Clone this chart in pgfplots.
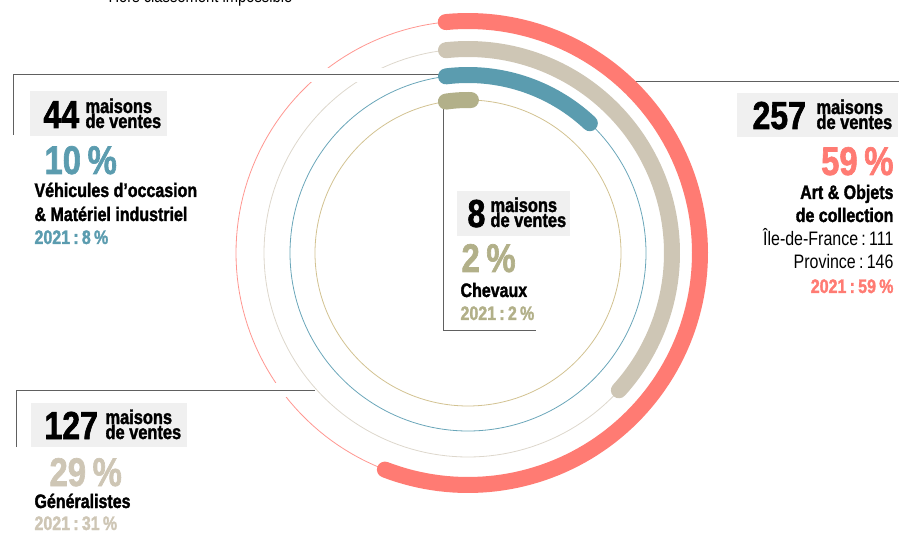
\documentclass[border=0pt]{standalone}
\usepackage{fontspec}
\setmainfont{Liberation Sans}[FakeStretch=0.82, BoldFeatures={FakeBold=1.6}]
\usepackage{pgfplots}
\pgfplotsset{compat=1.18}

\definecolor{cred}{HTML}{FF7B73}
\definecolor{cbeige}{HTML}{CEC6B5}
\definecolor{cblue}{HTML}{5B9CAF}
\definecolor{colive}{HTML}{B2B089}
\definecolor{tred}{HTML}{FF9690}
\definecolor{tbeige}{HTML}{DDD7CC}
\definecolor{tblue}{HTML}{6AA6B9}
\definecolor{tolive}{HTML}{D2C291}
\definecolor{boxgray}{HTML}{F0F0F0}
\definecolor{linegray}{HTML}{606060}
\definecolor{ink}{HTML}{1A1A1A}

\newcommand\bignum{\fontsize{39}{39}\selectfont\bfseries}
\newcommand\pctfont{\fontsize{40}{40}\selectfont\bfseries}
\newcommand\catfont{\fontsize{19.5}{23.5}\selectfont\bfseries}
\newcommand\regfont{\fontsize{19.5}{23.5}\selectfont}
\newcommand\mvfont{\fontsize{20}{15}\selectfont\bfseries}

\begin{document}
\begin{tikzpicture}
\begin{axis}[
    width=899pt, height=534pt, scale only axis,
    xmin=0, xmax=899, ymin=0, ymax=534, y dir=reverse,
    hide axis, clip=false,
    every node/.style={inner sep=0pt, text=ink},
  ]

  % thin guide circles
  \addplot[tred, line width=0.8pt, domain=0:360, samples=181] ({468+232*sin(x)},{253-232*cos(x)});
  \addplot[tbeige, line width=0.8pt, domain=0:360, samples=181] ({468+204*sin(x)},{253-204*cos(x)});
  \addplot[tblue, line width=0.8pt, domain=0:360, samples=181] ({468+178*sin(x)},{253-178*cos(x)});
  \addplot[tolive, line width=0.8pt, domain=0:360, samples=181] ({468+153*sin(x)},{253-153*cos(x)});

  % leader lines (white halo where they cross the circles)
  \draw[white, line width=14pt] (290,75) -- (385,75);
  \draw[white, line width=14pt] (262,390) -- (300,390);
  \draw[linegray, line width=1pt] (13,135) -- (13,75) -- (443,75);
  \draw[linegray, line width=1pt] (16,447) -- (16,390) -- (315,390);
  \draw[linegray, line width=1pt] (630,82) -- (899,82);
  \draw[linegray, line width=1pt] (443,100) -- (443,331) -- (536,331);

  % arcs: share of auction houses
  \addplot[cred, line width=16pt, line cap=round, domain=-5.5:201, samples=120] ({468+232*sin(x)},{253-232*cos(x)});
  \addplot[cbeige, line width=16pt, line cap=round, domain=-6.2:132.3, samples=90] ({468+204*sin(x)},{253-204*cos(x)});
  \addplot[cblue, line width=16pt, line cap=round, domain=-7.1:43.2, samples=40] ({468+178*sin(x)},{253-178*cos(x)});
  \addplot[colive, line width=16pt, line cap=round, domain=-8.3:1.1, samples=10] ({468+153*sin(x)},{253-153*cos(x)});

  % header text (cut by the page edge)
  \node[anchor=base west] at (105,3) {\fontsize{18}{18}\selectfont Hors classement impossible};

  % 44 - Vehicules
  \fill[boxgray] (30,91) rectangle (167,136);
  \node[anchor=base west] at (40,128) {\bignum 44};
  \node[anchor=base west] at (82,113) {\mvfont maisons};
  \node[anchor=base west] at (82,128) {\mvfont de ventes};
  \node[anchor=base west, text=cblue] at (41,174) {\pctfont 10\,\%};
  \node[anchor=base west] at (31,197) {\catfont Véhicules d’occasion};
  \node[anchor=base west] at (31,221) {\catfont \& Matériel industriel};
  \node[anchor=base west, text=cblue] at (31,244) {\catfont 2021\,:\,8\,\%};

  % 257 - Art
  \fill[boxgray] (737,93) rectangle (898,137);
  \node[anchor=base west] at (749,129) {\bignum 257};
  \node[anchor=base west] at (813,114) {\mvfont maisons};
  \node[anchor=base west] at (813,129) {\mvfont de ventes};
  \node[anchor=base east, text=cred] at (897,175) {\pctfont 59\,\%};
  \node[anchor=base east] at (897,199) {\catfont Art \& Objets};
  \node[anchor=base east] at (897,222) {\catfont de collection};
  \node[anchor=base east] at (897,246) {\regfont Île-de-France\,:\,111};
  \node[anchor=base east] at (897,269) {\regfont Province\,:\,146};
  \node[anchor=base east, text=cred] at (897,293) {\catfont 2021\,:\,59\,\%};

  % 8 - Chevaux
  \fill[boxgray] (457,191) rectangle (570,236);
  \node[anchor=base west] at (464,227) {\bignum 8};
  \node[anchor=base west] at (487,212) {\mvfont maisons};
  \node[anchor=base west] at (487,227) {\mvfont de ventes};
  \node[anchor=base west, text=colive] at (458,272) {\pctfont 2\,\%};
  \node[anchor=base west] at (457,297) {\catfont Chevaux};
  \node[anchor=base west, text=colive] at (457,320) {\catfont 2021\,:\,2\,\%};

  % 127 - Generalistes
  \fill[boxgray] (31,403) rectangle (187,447);
  \node[anchor=base west] at (41,439) {\bignum 127};
  \node[anchor=base west] at (102,424) {\mvfont maisons};
  \node[anchor=base west] at (102,439) {\mvfont de ventes};
  \node[anchor=base west, text=cbeige] at (46,486) {\pctfont 29\,\%};
  \node[anchor=base west] at (31,508) {\catfont Généralistes};
  \node[anchor=base west, text=cbeige] at (31,530) {\catfont 2021\,:\,31\,\%};
\end{axis}
\pgfresetboundingbox
\useasboundingbox (current axis.south west) rectangle (current axis.north east);
\end{tikzpicture}
\end{document}
